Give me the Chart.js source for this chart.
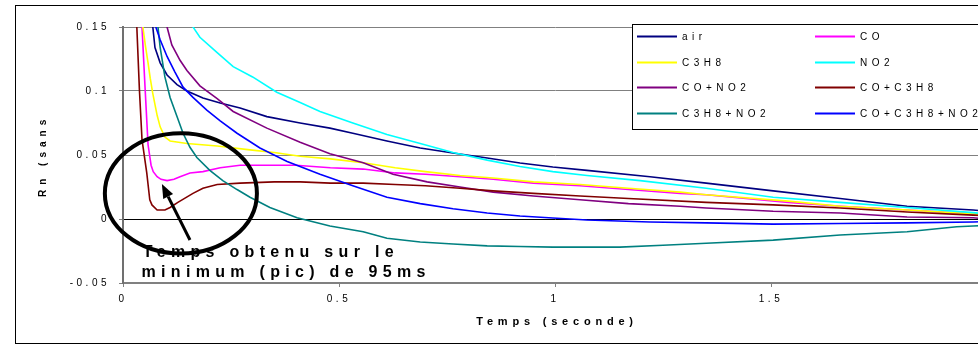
<!DOCTYPE html>
<html>
<head>
<meta charset="utf-8">
<script src="https://cdn.jsdelivr.net/npm/chart.js@4.4.1/dist/chart.umd.min.js"></script>
<style>
  html, body { margin: 0; padding: 0; background: #fff; overflow: hidden; }
  #wrap { width: 978px; height: 346px; overflow: hidden; }
  canvas { display: block; }
</style>
</head>
<body>
<div id="wrap"><canvas id="chart" width="1000" height="346"></canvas></div>
<script>
// series, in the legend's reading order
const seriesNames = ['air', 'CO', 'C3H8', 'NO2', 'CO+NO2', 'CO+C3H8', 'C3H8+NO2', 'CO+C3H8+NO2'];
const seriesColors = ['#000080', '#ff00ff', '#ffff00', '#00ffff', '#800080', '#800000', '#008080', '#0000ff'];

// time (s) / Rn values
const airT = [0.064, 0.069, 0.074, 0.086, 0.102, 0.125, 0.148, 0.185, 0.225, 0.271, 0.333, 0.41, 0.479, 0.532, 0.611, 0.688, 0.764, 0.843, 0.919, 0.995, 1.074, 1.22, 1.35, 1.505, 1.66, 1.815, 1.968, 2.0];
const airV = [0.175, 0.150, 0.134, 0.122, 0.1125, 0.105, 0.100, 0.0945, 0.0906, 0.0867, 0.080, 0.075, 0.071, 0.067, 0.061, 0.0555, 0.0516, 0.0477, 0.0438, 0.0406, 0.038, 0.033, 0.028, 0.022, 0.016, 0.010, 0.007, 0.006];

const coT = [0.042, 0.044, 0.051, 0.058, 0.065, 0.070, 0.079, 0.088, 0.102, 0.118, 0.132, 0.155, 0.185, 0.225, 0.271, 0.33, 0.40, 0.48, 0.556, 0.63, 0.70, 0.78, 0.857, 0.95, 1.058, 1.17, 1.29, 1.35, 1.54, 1.66, 1.815, 1.968, 2.0];
const coV = [0.17, 0.150, 0.103, 0.058, 0.042, 0.037, 0.033, 0.031, 0.030, 0.031, 0.033, 0.036, 0.037, 0.040, 0.042, 0.042, 0.042, 0.040, 0.039, 0.036, 0.035, 0.033, 0.031, 0.028, 0.026, 0.023, 0.020, 0.019, 0.013, 0.010, 0.007, 0.004, 0.003];

const c3h8T = [0.044, 0.046, 0.052, 0.058, 0.063, 0.069, 0.079, 0.086, 0.097, 0.109, 0.148, 0.218, 0.294, 0.35, 0.41, 0.48, 0.556, 0.63, 0.70, 0.78, 0.857, 0.95, 1.058, 1.17, 1.29, 1.35, 1.54, 1.66, 1.815, 1.968, 2.0];
const c3h8V = [0.17, 0.150, 0.135, 0.122, 0.110, 0.098, 0.081, 0.072, 0.064, 0.061, 0.059, 0.057, 0.054, 0.052, 0.049, 0.047, 0.044, 0.040, 0.037, 0.034, 0.032, 0.029, 0.027, 0.024, 0.021, 0.019, 0.014, 0.010, 0.007, 0.004, 0.003];

const no2T = [0.155, 0.162, 0.178, 0.218, 0.255, 0.30, 0.356, 0.41, 0.456, 0.532, 0.611, 0.688, 0.764, 0.843, 0.919, 0.995, 1.074, 1.197, 1.35, 1.505, 1.66, 1.815, 1.968, 2.0];
const no2V = [0.158, 0.150, 0.142, 0.130, 0.119, 0.111, 0.099, 0.091, 0.084, 0.075, 0.066, 0.059, 0.052, 0.046, 0.041, 0.037, 0.034, 0.030, 0.024, 0.017, 0.013, 0.009, 0.005, 0.004];

const coNo2T = [0.098, 0.102, 0.113, 0.132, 0.148, 0.178, 0.218, 0.255, 0.333, 0.41, 0.479, 0.556, 0.625, 0.704, 0.78, 0.857, 0.95, 1.058, 1.17, 1.29, 1.35, 1.505, 1.66, 1.815, 1.968, 2.0];
const coNo2V = [0.17, 0.150, 0.136, 0.124, 0.116, 0.104, 0.094, 0.084, 0.071, 0.060, 0.051, 0.044, 0.035, 0.029, 0.025, 0.021, 0.018, 0.015, 0.012, 0.010, 0.0086, 0.006, 0.0047, 0.0016, 0.001, 0.0];

const coC3h8T = [0.028, 0.032, 0.038, 0.044, 0.055, 0.062, 0.067, 0.079, 0.097, 0.109, 0.127, 0.162, 0.185, 0.218, 0.271, 0.35, 0.41, 0.48, 0.556, 0.63, 0.70, 0.78, 0.857, 0.95, 1.058, 1.17, 1.35, 1.505, 1.66, 1.815, 1.968, 2.0];
const coC3h8V = [0.17, 0.150, 0.101, 0.062, 0.036, 0.015, 0.011, 0.007, 0.007, 0.009, 0.013, 0.020, 0.024, 0.027, 0.028, 0.029, 0.029, 0.028, 0.028, 0.027, 0.026, 0.024, 0.022, 0.020, 0.018, 0.016, 0.013, 0.011, 0.0086, 0.0055, 0.003, 0.0025];

const c3h8No2T = [0.078, 0.081, 0.086, 0.097, 0.109, 0.125, 0.139, 0.155, 0.171, 0.201, 0.231, 0.264, 0.294, 0.340, 0.403, 0.479, 0.556, 0.611, 0.688, 0.764, 0.843, 0.919, 0.995, 1.074, 1.15, 1.25, 1.35, 1.505, 1.66, 1.815, 1.93, 1.968, 2.0];
const c3h8No2V = [0.17, 0.150, 0.134, 0.111, 0.095, 0.080, 0.067, 0.056, 0.048, 0.038, 0.030, 0.023, 0.017, 0.009, 0.001, -0.0055, -0.010, -0.015, -0.018, -0.0195, -0.021, -0.0215, -0.022, -0.022, -0.022, -0.0205, -0.019, -0.0165, -0.0125, -0.010, -0.006, -0.0055, -0.005];

const allT = [0.072, 0.076, 0.086, 0.102, 0.120, 0.139, 0.162, 0.194, 0.225, 0.264, 0.317, 0.380, 0.456, 0.532, 0.611, 0.688, 0.764, 0.843, 0.919, 0.995, 1.074, 1.22, 1.35, 1.505, 1.66, 1.815, 1.968, 2.0];
const allV = [0.165, 0.150, 0.140, 0.127, 0.115, 0.103, 0.095, 0.085, 0.0766, 0.067, 0.0555, 0.045, 0.035, 0.026, 0.017, 0.012, 0.008, 0.0047, 0.0023, 0.0008, -0.0008, -0.0023, -0.003, -0.004, -0.0035, -0.003, -0.0023, -0.002];

const seriesT = [airT, coT, c3h8T, no2T, coNo2T, coC3h8T, c3h8No2T, allT];
const seriesV = [airV, coV, c3h8V, no2V, coNo2V, coC3h8V, c3h8No2V, allV];

const xTicks = [0, 0.5, 1, 1.5, 2];
const yTicks = [-0.05, 0, 0.05, 0.1, 0.15];
const xTitle = 'Temps (seconde)';
const yTitle = 'Rn (sans unité)';
const noteLines = ['Temps obtenu sur le', 'minimum (pic) de 95ms'];

const FONT = 'Arial, "Liberation Sans", sans-serif';

const datasets = seriesNames.map((name, i) => ({
    label: name,
    data: seriesT[i].map((t, k) => ({ x: t, y: seriesV[i][k] })),
    borderColor: seriesColors[i],
    borderWidth: 1.6,
    pointRadius: 0,
    tension: 0,
    fill: false,
    order: seriesNames.length - i,
}));

// wide letter spacing like the original; the x title gets a bit more
const spacing = {
    id: 'spacing',
    beforeDraw(chart) {
        chart.ctx.letterSpacing = '3.5px';
    },
};

function spaced(ctx, px) {
    ctx.letterSpacing = px + 'px';
}

// circle, arrow and note, legend box, frame
const extras = {
    id: 'extras',
    afterDraw(chart) {
        const ctx = chart.ctx;
        const xs = chart.scales.x, ys = chart.scales.y;

        // axis titles
        ctx.save();
        ctx.font = 'bold 11px ' + FONT;
        spaced(ctx, 4.8);
        ctx.fillStyle = '#000';
        ctx.textAlign = 'center';
        ctx.textBaseline = 'middle';
        ctx.fillText(xTitle, (xs.left + xs.right) / 2 + 2, 322);
        ctx.restore();

        // y title is cut off at the top, as in the original
        ctx.save();
        ctx.beginPath();
        ctx.rect(0, 107, 120, 200);
        ctx.clip();
        ctx.translate(43, 197);
        ctx.rotate(-Math.PI / 2);
        ctx.font = 'bold 10px ' + FONT;
        spaced(ctx, 5);
        ctx.fillStyle = '#000';
        ctx.textAlign = 'left';
        ctx.textBaseline = 'middle';
        ctx.fillText(yTitle, 0, 0);
        ctx.restore();

        // ellipse around the minimum
        const cx = xs.getPixelForValue(0.134), cy = ys.getPixelForValue(0.020);
        const rx = xs.getPixelForValue(0.310) - cx;
        const ry = ys.getPixelForValue(-0.027) - cy;
        ctx.save();
        ctx.strokeStyle = '#000';
        ctx.lineWidth = 4;
        ctx.beginPath();
        ctx.ellipse(cx, cy, rx, ry, 0, 0, Math.PI * 2);
        ctx.stroke();

        // arrow
        const ax0 = xs.getPixelForValue(0.155), ay0 = ys.getPixelForValue(-0.0164);
        const ax1 = xs.getPixelForValue(0.090), ay1 = ys.getPixelForValue(0.0273);
        const ang = Math.atan2(ay1 - ay0, ax1 - ax0);
        const hl = 14, hw = 5.5;
        const bx = ax1 - hl * Math.cos(ang), by = ay1 - hl * Math.sin(ang);
        ctx.lineWidth = 3;
        ctx.beginPath();
        ctx.moveTo(ax0, ay0);
        ctx.lineTo(bx, by);
        ctx.stroke();
        ctx.fillStyle = '#000';
        ctx.beginPath();
        ctx.moveTo(ax1, ay1);
        ctx.lineTo(bx + hw * Math.sin(ang), by - hw * Math.cos(ang));
        ctx.lineTo(bx - hw * Math.sin(ang), by + hw * Math.cos(ang));
        ctx.closePath();
        ctx.fill();

        // note text
        ctx.font = 'bold 16px ' + FONT;
        spaced(ctx, 5.3);
        ctx.textAlign = 'left';
        ctx.textBaseline = 'alphabetic';
        ctx.fillText(noteLines[0], xs.getPixelForValue(0.046), ys.getPixelForValue(-0.0297));
        ctx.fillText(noteLines[1], xs.getPixelForValue(0.043), ys.getPixelForValue(-0.0453));
        ctx.restore();

        // legend box, two columns
        ctx.save();
        ctx.fillStyle = '#fff';
        ctx.fillRect(632, 24, 400, 106);
        ctx.strokeStyle = '#000';
        ctx.lineWidth = 1;
        ctx.strokeRect(632.5, 24.5, 400, 105);
        ctx.font = '10px ' + FONT;
        spaced(ctx, 4.5);
        ctx.textAlign = 'left';
        ctx.textBaseline = 'middle';
        chart.data.datasets.forEach((ds, i) => {
            const col = i % 2, row = Math.floor(i / 2);
            const x = 637 + col * 178;
            const y = Math.round(36 + row * 25.7) + 0.5;
            ctx.strokeStyle = ds.borderColor;
            ctx.lineWidth = 2;
            ctx.beginPath();
            ctx.moveTo(x, y);
            ctx.lineTo(x + 40, y);
            ctx.stroke();
            ctx.fillStyle = '#000';
            ctx.fillText(ds.label, x + 45, y + 0.5);
        });
        ctx.restore();

        // outer frame
        ctx.save();
        ctx.strokeStyle = '#000';
        ctx.lineWidth = 1;
        ctx.strokeRect(15.5, 5.5, 1100, 338);
        ctx.restore();
    },
};

const fmt = (v) => String(Math.round(v * 100) / 100);

new Chart(document.getElementById('chart').getContext('2d'), {
    type: 'line',
    data: { datasets },
    options: {
        responsive: false,
        animation: false,
        devicePixelRatio: 1,
        layout: { padding: { left: 0, right: 13, top: 27, bottom: 0 } },
        plugins: {
            legend: { display: false },
            tooltip: { enabled: false },
        },
        scales: {
            x: {
                type: 'linear',
                min: 0,
                max: 2,
                afterBuildTicks: (s) => { s.ticks = xTicks.map((v) => ({ value: v })); },
                afterFit: (s) => { s.height = 63; },
                ticks: {
                    callback: fmt,
                    color: '#000',
                    font: { family: FONT, size: 10 },
                    padding: 6,
                    maxRotation: 0,
                    autoSkip: false,
                },
                grid: { drawOnChartArea: false, tickLength: 4, tickColor: '#808080' },
                border: { color: '#808080', width: 2 },
                title: { display: false },
            },
            y: {
                type: 'linear',
                min: -0.05,
                max: 0.15,
                afterBuildTicks: (s) => { s.ticks = yTicks.map((v) => ({ value: v })); },
                afterFit: (s) => { s.width = 123; },
                ticks: {
                    callback: fmt,
                    color: '#000',
                    font: { family: FONT, size: 10 },
                    padding: 9,
                },
                grid: {
                    color: (c) => (c.tick && c.tick.value === 0 ? '#000' : '#808080'),
                    tickLength: 4,
                    tickColor: '#808080',
                },
                border: { color: '#707070', width: 2 },
            },
        },
    },
    plugins: [spacing, extras],
});
</script>
</body>
</html>
